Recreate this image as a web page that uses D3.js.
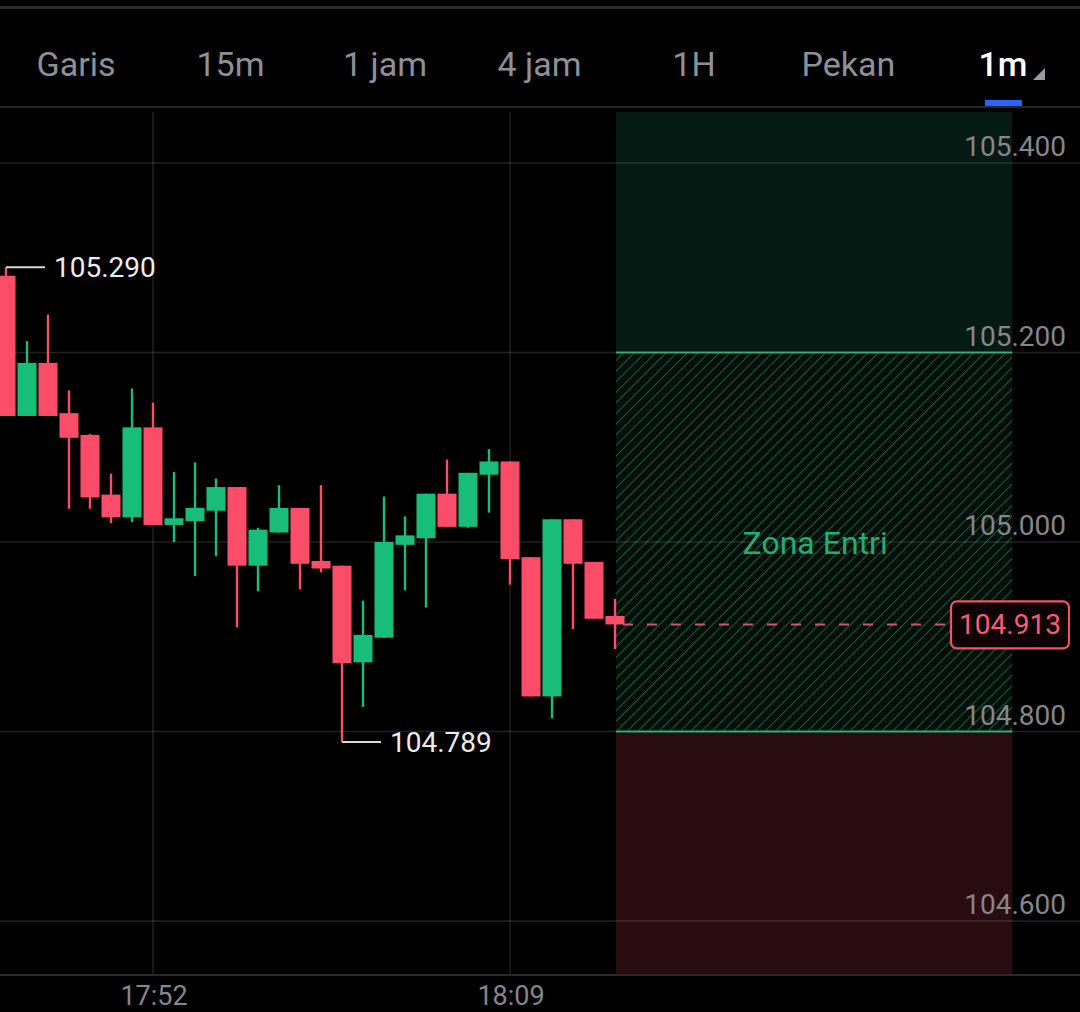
<!DOCTYPE html>
<html>
<head>
<meta charset="utf-8">
<script src="https://cdn.jsdelivr.net/npm/d3@7"></script>
<style>
  html, body { margin: 0; padding: 0; background: #000; }
  svg { display: block; font-family: Roboto, "Noto Sans", sans-serif; }
</style>
</head>
<body>
<svg id="chart" width="1080" height="1012"></svg>
<script>
// ---------- DATA ----------
const tabs = ["Garis", "15m", "1 jam", "4 jam", "1H", "Pekan", "1m"];
const activeTab = "1m";

const times = ["17:45","17:46","17:47","17:48","17:49","17:50","17:51","17:52","17:53","17:54",
               "17:55","17:56","17:57","17:58","17:59","18:00","18:01","18:02","18:03","18:04",
               "18:05","18:06","18:07","18:08","18:09","18:10","18:11","18:12","18:13","18:14"];
const opens  = [105.281,105.133,105.189,105.136,105.113,105.050,105.026,105.121,105.018,105.022,
                105.033,105.058,104.975,105.010,105.036,104.980,104.975,104.873,104.899,104.997,
                105.004,105.051,105.016,105.071,105.085,104.984,104.837,105.024,104.979,104.922];
const highs  = [105.290,105.212,105.240,105.160,105.114,105.072,105.162,105.147,105.074,105.084,
                105.067,105.058,105.015,105.060,105.036,105.060,104.975,104.938,105.048,105.027,
                105.051,105.087,105.073,105.098,105.085,104.984,105.024,105.024,104.979,104.940];
const lows   = [105.133,105.133,105.133,105.035,105.035,105.020,105.021,105.018,105.000,104.964,
                104.985,104.910,104.948,105.010,104.950,104.968,104.789,104.826,104.899,104.949,
                104.931,105.016,105.015,105.031,104.955,104.837,104.814,104.908,104.919,104.887];
const closes = [105.133,105.189,105.133,105.110,105.047,105.026,105.121,105.018,105.025,105.036,
                105.058,104.975,105.013,105.036,104.977,104.972,104.872,104.902,105.000,105.007,
                105.051,105.016,105.073,105.085,104.982,104.837,105.024,104.977,104.919,104.913];

const priceTicks = [105.4, 105.2, 105.0, 104.8, 104.6];
const timeTicks = ["17:52", "18:09"];

const highMark = {time: "17:45", value: 105.290};
const lowMark  = {time: "18:01", value: 104.789};
const lastPrice = 104.913;

const zoneStart = "18:14", zoneEnd = "18:32:55";
const entryTop = 105.2, entryBottom = 104.8;
const zoneLabel = "Zona Entri";

// ---------- SETUP ----------
const W = 1080, H = 1012;
const plotTop = 112, plotBottom = 975;
const parse = d3.timeParse("%H:%M");
const parseS = d3.timeParse("%H:%M:%S");

const candles = times.map((t, i) => ({
  t: parse(t), o: opens[i], h: highs[i], l: lows[i], c: closes[i]
}));

const x = d3.scaleTime()
  .domain([parse("17:45"), parse("18:14")])
  .range([6, 615]);
const y = d3.scaleLinear()
  .domain([104.6, 105.4])
  .range([921, 163]);

const RED = "#fb4c68", GREEN = "#18bd79";
const svg = d3.select("#chart");

svg.append("rect").attr("width", W).attr("height", H).attr("fill", "#000");

// hatch pattern
const defs = svg.append("defs");
const pat = defs.append("pattern")
  .attr("id", "hatch").attr("patternUnits", "userSpaceOnUse")
  .attr("width", 7.5).attr("height", 7.5)
  .attr("patternTransform", "rotate(45)");
pat.append("rect").attr("width", 7.5).attr("height", 7.5).attr("fill", "#020e09");
pat.append("line").attr("x1", 0).attr("y1", 0).attr("x2", 0).attr("y2", 7.5)
  .attr("stroke", "#165a3d").attr("stroke-width", 2.2);

defs.append("clipPath").attr("id", "plotclip")
  .append("rect").attr("x", 0).attr("y", plotTop).attr("width", W).attr("height", plotBottom - plotTop);

// ---------- TOP BAR ----------
svg.append("rect").attr("x", 0).attr("y", 6).attr("width", W).attr("height", 3).attr("fill", "#2a2a2e");
svg.append("rect").attr("x", 0).attr("y", 106).attr("width", W).attr("height", 2).attr("fill", "#26262a");

const tabX = d3.scalePoint().domain(tabs).range([76, 1003]);
svg.append("g").selectAll("text").data(tabs).join("text")
  .attr("x", d => tabX(d))
  .attr("y", 76)
  .attr("text-anchor", "middle")
  .attr("font-size", 34)
  .attr("font-weight", d => d === activeTab ? 500 : 400)
  .attr("fill", d => d === activeTab ? "#ffffff" : "#8e9098")
  .text(d => d);
const ax = tabX(activeTab);
svg.append("path")
  .attr("d", `M${ax + 42},${68} L${ax + 42},${80} L${ax + 30},${80} Z`)
  .attr("fill", "#9a9ba0");
svg.append("rect").attr("x", ax - 18).attr("y", 100).attr("width", 37).attr("height", 6)
  .attr("fill", "#2962ff");

// ---------- ZONES ----------
const zx0 = x(parse(zoneStart)) + 1, zx1 = x(parseS(zoneEnd));
const zones = svg.append("g");
zones.append("rect")
  .attr("x", zx0).attr("y", plotTop).attr("width", zx1 - zx0).attr("height", y(entryTop) - plotTop)
  .attr("fill", "#041a12");
zones.append("rect")
  .attr("x", zx0).attr("y", y(entryTop)).attr("width", zx1 - zx0).attr("height", y(entryBottom) - y(entryTop))
  .attr("fill", "url(#hatch)");
zones.append("rect")
  .attr("x", zx0).attr("y", y(entryBottom)).attr("width", zx1 - zx0).attr("height", plotBottom - y(entryBottom))
  .attr("fill", "#290c10");

// ---------- GRID ----------
const grid = svg.append("g");
grid.selectAll("line.h").data(priceTicks).join("line")
  .attr("x1", 0).attr("x2", W)
  .attr("y1", d => y(d)).attr("y2", d => y(d))
  .attr("stroke", "rgba(255,255,255,0.13)").attr("stroke-width", 1.5);
grid.selectAll("line.v").data(timeTicks).join("line")
  .attr("x1", d => x(parse(d))).attr("x2", d => x(parse(d)))
  .attr("y1", plotTop).attr("y2", plotBottom)
  .attr("stroke", "rgba(255,255,255,0.13)").attr("stroke-width", 1.5);
svg.append("line").attr("x1", 0).attr("x2", W).attr("y1", plotBottom).attr("y2", plotBottom)
  .attr("stroke", "#2a2a2e").attr("stroke-width", 2);

// zone border lines
zones.selectAll("line").data([entryTop, entryBottom]).join("line")
  .attr("x1", zx0).attr("x2", zx1)
  .attr("y1", d => y(d)).attr("y2", d => y(d))
  .attr("stroke", "#1f9e6c").attr("stroke-width", 2.2);

svg.append("text")
  .attr("x", (zx0 + zx1) / 2 + 1).attr("y", y((entryTop + entryBottom) / 2) + 12)
  .attr("text-anchor", "middle").attr("font-size", 32)
  .attr("fill", "#1fae73")
  .text(zoneLabel);

// ---------- Y AXIS LABELS ----------
svg.append("g").selectAll("text").data(priceTicks).join("text")
  .attr("x", 1066).attr("y", d => y(d) - 7)
  .attr("text-anchor", "end").attr("font-size", 28)
  .attr("fill", "#85868b")
  .text(d => d3.format(".3f")(d));

// ---------- X AXIS LABELS ----------
svg.append("g").selectAll("text").data(timeTicks).join("text")
  .attr("x", d => x(parse(d)) + 1).attr("y", 1005)
  .attr("text-anchor", "middle").attr("font-size", 27)
  .attr("fill", "#85868b")
  .text(d => d);

// ---------- CANDLES ----------
const step = x(parse("17:46")) - x(parse("17:45"));
const bw = step - 2;
const cg = svg.append("g").attr("clip-path", "url(#plotclip)");
const cdl = cg.selectAll("g").data(candles).join("g");
cdl.append("line")
  .attr("x1", d => x(d.t)).attr("x2", d => x(d.t))
  .attr("y1", d => y(d.h)).attr("y2", d => y(d.l))
  .attr("stroke", d => d.c >= d.o ? GREEN : RED).attr("stroke-width", 2.4);
cdl.append("rect")
  .attr("x", d => x(d.t) - bw / 2)
  .attr("width", bw)
  .attr("y", d => y(Math.max(d.o, d.c)))
  .attr("height", d => Math.max(2, Math.abs(y(d.o) - y(d.c))))
  .attr("fill", d => d.c >= d.o ? GREEN : RED);

// ---------- HIGH / LOW MARKERS ----------
const hx = x(parse(highMark.time)), hy = y(highMark.value);
svg.append("line").attr("x1", hx).attr("x2", hx + 39).attr("y1", hy).attr("y2", hy)
  .attr("stroke", "#d8d8d8").attr("stroke-width", 2);
svg.append("text").attr("x", hx + 48).attr("y", hy + 10)
  .attr("font-size", 28).attr("fill", "#ececec").text(d3.format(".3f")(highMark.value));

const lx = x(parse(lowMark.time)), ly = y(lowMark.value);
svg.append("line").attr("x1", lx).attr("x2", lx + 39).attr("y1", ly).attr("y2", ly)
  .attr("stroke", "#d8d8d8").attr("stroke-width", 2);
svg.append("text").attr("x", lx + 48).attr("y", ly + 10)
  .attr("font-size", 28).attr("fill", "#ececec").text(d3.format(".3f")(lowMark.value));

// ---------- LAST PRICE ----------
const py = y(lastPrice);
svg.append("line")
  .attr("x1", x(parse("18:14")) + 8).attr("x2", 951)
  .attr("y1", py).attr("y2", py)
  .attr("stroke", "#d45468").attr("stroke-width", 2)
  .attr("stroke-dasharray", "10 14");
svg.append("rect")
  .attr("x", 951).attr("y", py - 23).attr("width", 118).attr("height", 47)
  .attr("rx", 6).attr("fill", "#0d0305")
  .attr("stroke", "#f0536b").attr("stroke-width", 2.2);
svg.append("text")
  .attr("x", 1010).attr("y", py + 10)
  .attr("text-anchor", "middle").attr("font-size", 28)
  .attr("fill", "#ff5a72")
  .text(d3.format(".3f")(lastPrice));
</script>
</body>
</html>
